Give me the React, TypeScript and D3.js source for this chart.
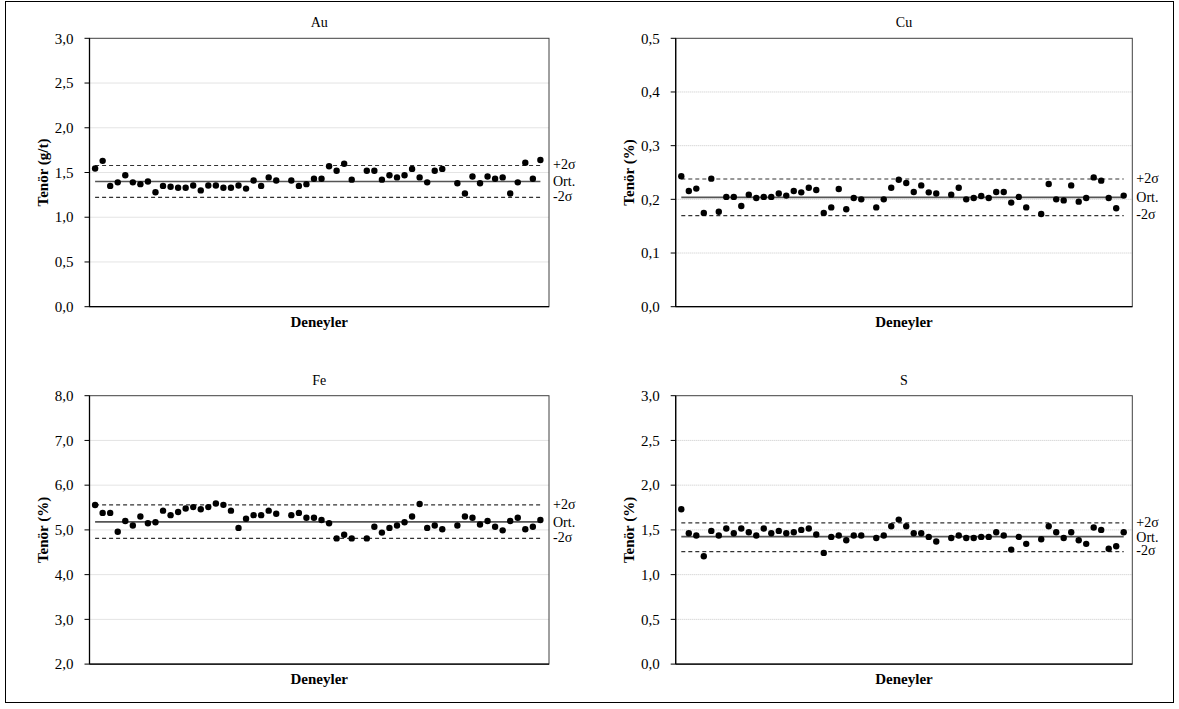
import React from "react";
import * as d3 from "d3";

const N = 60;
const auValues: (number | null)[] = [1.545, 1.63, 1.35, 1.39, 1.47, 1.39, 1.37, 1.40, 1.28, 1.35, 1.34, 1.33, 1.33, 1.355, 1.30, 1.355, 1.355, 1.33, 1.33, 1.355, 1.32, 1.41, 1.35, 1.445, 1.41, null, 1.41, 1.35, 1.37, 1.43, 1.43, 1.57, 1.52, 1.597, 1.42, null, 1.52, 1.52, 1.42, 1.47, 1.445, 1.47, 1.54, 1.445, 1.39, 1.52, 1.54, null, 1.38, 1.265, 1.455, 1.38, 1.455, 1.43, 1.445, 1.265, 1.39, 1.61, 1.43, 1.64];
const cuValues: (number | null)[] = [0.243, 0.2156, 0.220, 0.1747, 0.2385, 0.177, 0.2045, 0.2045, 0.1877, 0.2087, 0.2026, 0.2045, 0.2045, 0.211, 0.207, 0.2156, 0.213, 0.2217, 0.2175, 0.1747, 0.185, 0.2193, 0.1814, 0.2026, 0.200, null, 0.185, 0.200, 0.2217, 0.2366, 0.2305, 0.2137, 0.226, 0.213, 0.211, null, 0.2087, 0.2217, 0.200, 0.2026, 0.2063, 0.2026, 0.2137, 0.2137, 0.1939, 0.2045, 0.185, null, 0.1728, 0.2286, 0.200, 0.198, 0.226, 0.1957, 0.2026, 0.2409, 0.2348, 0.2026, 0.1833, 0.207];
const feValues: (number | null)[] = [5.558, 5.38, 5.38, 4.96, 5.20, 5.10, 5.30, 5.15, 5.17, 5.43, 5.33, 5.40, 5.48, 5.51, 5.46, 5.51, 5.59, 5.56, 5.43, 5.045, 5.25, 5.33, 5.33, 5.43, 5.36, null, 5.33, 5.38, 5.27, 5.27, 5.22, 5.15, 4.81, 4.89, 4.81, null, 4.81, 5.07, 4.94, 5.045, 5.10, 5.17, 5.30, 5.58, 5.045, 5.10, 5.015, null, 5.10, 5.30, 5.27, 5.12, 5.20, 5.07, 4.99, 5.20, 5.27, 5.015, 5.07, 5.22];
const sValues: (number | null)[] = [1.73, 1.463, 1.437, 1.206, 1.489, 1.437, 1.515, 1.463, 1.515, 1.474, 1.437, 1.515, 1.463, 1.489, 1.463, 1.474, 1.50, 1.515, 1.448, 1.243, 1.422, 1.437, 1.385, 1.437, 1.437, null, 1.41, 1.437, 1.54, 1.615, 1.54, 1.463, 1.463, 1.422, 1.37, null, 1.41, 1.437, 1.41, 1.41, 1.422, 1.422, 1.474, 1.437, 1.28, 1.422, 1.344, null, 1.396, 1.54, 1.474, 1.41, 1.474, 1.385, 1.344, 1.526, 1.50, 1.29, 1.318, 1.474];

const titles = ["Au", "Cu", "Fe", "S"];
const yLabels = ["Tenör (g/t)", "Tenör (%)", "Tenör (%)", "Tenör (%)"];
const yMins = [0, 0, 2, 0];
const yMaxs = [3, 0.5, 8, 3];
const yTickSteps = [0.5, 0.1, 1, 0.5];
const means = [1.40, 0.2037, 5.18, 1.425];
const uppers = [1.578, 0.2379, 5.56, 1.578];
const lowers = [1.221, 0.1697, 4.81, 1.258];
const refLabels = ["+2σ", "Ort.", "-2σ"];
const xTitle = "Deneyler";

const FONT = "Liberation Serif, Times New Roman, Times, DejaVu Serif, serif";

const layouts = [
  { left: 89.5, right: 549, top: 38.3, bottom: 306.7 },
  { left: 675.7, right: 1132.3, top: 38.3, bottom: 306.7 },
  { left: 89.5, right: 549, top: 395.7, bottom: 664.1 },
  { left: 675.7, right: 1132.3, top: 395.7, bottom: 664.1 },
];

const allValues = [auValues, cuValues, feValues, sValues];

function Panel({ i }: { i: number }) {
  const L = layouts[i];
  const vals = allValues[i];
  const x = d3.scaleLinear().domain([1, N]).range([L.left + 5.6, L.right - 8.6]);
  const y = d3.scaleLinear().domain([yMins[i], yMaxs[i]]).range([L.bottom, L.top]);
  const nT = Math.round((yMaxs[i] - yMins[i]) / yTickSteps[i]);
  const ticks = d3.range(nT + 1).map((k) => yMins[i] + k * yTickSteps[i]);
  const fmt = (v: number) => v.toFixed(1).replace(".", ",");
  const lineGen = (v: number) =>
    d3.line<number>().x((d) => x(d)).y(() => y(v))([1, N]) as string;
  const cx = (L.left + L.right) / 2;
  const cy = (L.top + L.bottom) / 2;
  const refs = [uppers[i], means[i], lowers[i]];
  return (
    <g>
      {ticks.slice(1, -1).map((t) => (
        <line key={"g" + t} x1={L.left} x2={L.right} y1={y(t)} y2={y(t)} stroke="#c8c8c8" strokeWidth={1} strokeDasharray="1,1" />
      ))}
      <rect x={L.left} y={L.top} width={L.right - L.left} height={L.bottom - L.top} fill="none" stroke="#404040" strokeWidth={1} />
      <line x1={L.left} x2={L.left} y1={L.top} y2={L.bottom} stroke="#000" strokeWidth={1.3} />
      <line x1={L.left} x2={L.right} y1={L.bottom} y2={L.bottom} stroke="#000" strokeWidth={1.3} />
      {ticks.map((t) => (
        <g key={"t" + t}>
          <line x1={L.left - 5} x2={L.left} y1={y(t)} y2={y(t)} stroke="#000" strokeWidth={1} />
          <text x={L.left - 16} y={y(t)} dy="0.35em" textAnchor="end" style={{ fontFamily: FONT, fontSize: 15 }} fill="#000">{fmt(t)}</text>
        </g>
      ))}
      <path d={lineGen(uppers[i])} stroke="#333" strokeWidth={1.2} strokeDasharray="4,3" fill="none" />
      <path d={lineGen(lowers[i])} stroke="#333" strokeWidth={1.2} strokeDasharray="4,3" fill="none" />
      <path d={lineGen(means[i])} stroke="#555" strokeWidth={1.6} fill="none" />
      {vals.map((v, k) =>
        v == null ? null : <circle key={"c" + k} cx={x(k + 1)} cy={y(v)} r={3.2} fill="#000" />
      )}
      {refs.map((r, k) => (
        <text key={"r" + k} x={L.right + 4} y={y(r) + (k === 0 ? -1 : k === 2 ? -1.5 : 0)} dy="0.35em" style={{ fontFamily: FONT, fontSize: 14 }} fill="#000">{refLabels[k]}</text>
      ))}
      <text x={cx} y={L.top - 11} textAnchor="middle" style={{ fontFamily: FONT, fontSize: 14 }} fill="#000">{titles[i]}</text>
      <text x={cx} y={L.bottom + 20} textAnchor="middle" style={{ fontFamily: FONT, fontSize: 15, fontWeight: "bold" }} fill="#000">{xTitle}</text>
      <text transform={`translate(${L.left - 42},${cy}) rotate(-90)`} textAnchor="middle" style={{ fontFamily: FONT, fontSize: 15, fontWeight: "bold" }} fill="#000">{yLabels[i]}</text>
    </g>
  );
}

export default function App() {
  return (
    <svg width={1179} height={709} style={{ position: "absolute", left: 0, top: 0, background: "#fff" }}>
      <rect x={0} y={0} width={1179} height={709} fill="#fff" />
      <rect x={5.5} y={1.5} width={1168} height={701} fill="none" stroke="#000" strokeWidth={1} />
      {[0, 1, 2, 3].map((i) => (
        <Panel key={i} i={i} />
      ))}
    </svg>
  );
}
